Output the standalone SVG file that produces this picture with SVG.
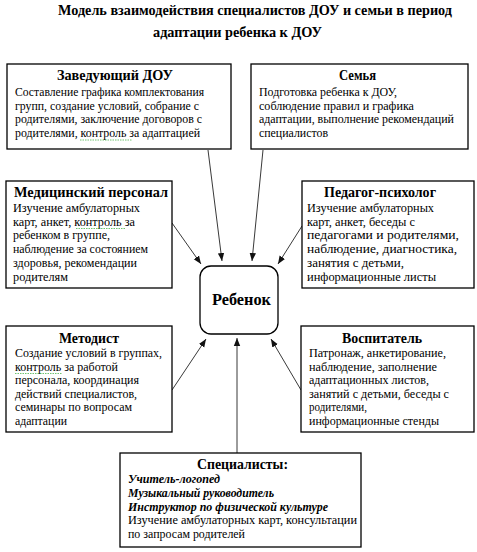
<svg xmlns="http://www.w3.org/2000/svg" width="477" height="552" viewBox="0 0 477 552" font-family="Liberation Serif, serif">
<style>
.bx{fill:#fff;stroke:#000;stroke-width:1.3}
.h{font-size:14px;font-weight:bold}
.b{font-size:11.5px}
.bi{font-size:11.5px;font-weight:bold;font-style:italic}
.ln{stroke:#222;stroke-width:0.9;fill:none;marker-end:url(#ah)}
.sq{stroke:#3a3;stroke-width:0.7;fill:none;stroke-dasharray:1.5 1}
</style>
<defs>
<marker id="ah" markerUnits="userSpaceOnUse" markerWidth="8" markerHeight="8" viewBox="0 0 8 8" refX="8" refY="4" orient="auto">
<path d="M0,0.8 L8,4 L0,7.2 Z" fill="#111"/>
</marker>
</defs>
<rect width="477" height="552" fill="#fff"/>
<g id="title" font-family="Liberation Serif, serif">
<text class="h" x="58" y="15" textLength="394" lengthAdjust="spacingAndGlyphs">Модель взаимодействия специалистов ДОУ и семьи в период</text>
<text class="h" x="153" y="37" textLength="169" lengthAdjust="spacingAndGlyphs">адаптации ребенка к ДОУ</text>
</g>
<g id="connectors">
<line class="ln" x1="208" y1="150" x2="222" y2="261"/>
<line class="ln" x1="263" y1="150" x2="252" y2="261"/>
<line class="ln" x1="172" y1="223" x2="201" y2="264"/>
<line class="ln" x1="302" y1="226" x2="278" y2="264"/>
<line class="ln" x1="172" y1="390" x2="206" y2="339"/>
<line class="ln" x1="301" y1="390" x2="271" y2="339"/>
<line class="ln" x1="237" y1="453" x2="237" y2="338"/>
</g>
<g id="zaveduyushchiy" font-family="Liberation Serif, serif">
<rect class="bx" x="7" y="64" width="224" height="85"/>
<text class="h" x="57" y="80" textLength="116" lengthAdjust="spacingAndGlyphs">Заведующий ДОУ</text>
<text class="b" x="15" y="96" textLength="189" lengthAdjust="spacingAndGlyphs">Составление графика комплектования</text>
<text class="b" x="15" y="109.5" textLength="184" lengthAdjust="spacingAndGlyphs">групп, создание условий, собрание с</text>
<text class="b" x="15" y="123" textLength="187" lengthAdjust="spacingAndGlyphs">родителями, заключение договоров с</text>
<text class="b" x="15" y="137" textLength="185" lengthAdjust="spacingAndGlyphs">родителями, контроль за адаптацией</text>
<path class="sq" d="M80,140 h52"/>
</g>
<g id="semya" font-family="Liberation Serif, serif">
<rect class="bx" x="251" y="64" width="217" height="85"/>
<text class="h" x="339" y="80" textLength="37" lengthAdjust="spacingAndGlyphs">Семья</text>
<text class="b" x="259" y="96" textLength="138" lengthAdjust="spacingAndGlyphs">Подготовка ребенка к ДОУ,</text>
<text class="b" x="259" y="109.5" textLength="155" lengthAdjust="spacingAndGlyphs">соблюдение правил и графика</text>
<text class="b" x="259" y="123" textLength="195" lengthAdjust="spacingAndGlyphs">адаптации, выполнение рекомендаций</text>
<text class="b" x="259" y="137" textLength="69" lengthAdjust="spacingAndGlyphs">специалистов</text>
</g>
<g id="medpersonal" font-family="Liberation Serif, serif">
<rect class="bx" x="6" y="181" width="166" height="107"/>
<text class="h" x="14" y="197" textLength="154" lengthAdjust="spacingAndGlyphs">Медицинский персонал</text>
<text class="b" x="13" y="211.5" textLength="127" lengthAdjust="spacingAndGlyphs">Изучение амбулаторных</text>
<text class="b" x="13" y="225.5" textLength="122" lengthAdjust="spacingAndGlyphs">карт, анкет, контроль за</text>
<text class="b" x="13" y="239" textLength="97" lengthAdjust="spacingAndGlyphs">ребенком в группе,</text>
<text class="b" x="13" y="253" textLength="135" lengthAdjust="spacingAndGlyphs">наблюдение за состоянием</text>
<text class="b" x="13" y="267" textLength="124" lengthAdjust="spacingAndGlyphs">здоровья, рекомендации</text>
<text class="b" x="13" y="281" textLength="55" lengthAdjust="spacingAndGlyphs">родителям</text>
<path class="sq" d="M76,228.5 h50"/>
</g>
<g id="pedagog" font-family="Liberation Serif, serif">
<rect class="bx" x="302" y="181" width="172" height="107"/>
<text class="h" x="324" y="197" textLength="112" lengthAdjust="spacingAndGlyphs">Педагог-психолог</text>
<text class="b" x="307" y="211.5" textLength="127" lengthAdjust="spacingAndGlyphs">Изучение амбулаторных</text>
<text class="b" x="307" y="225.5" textLength="108" lengthAdjust="spacingAndGlyphs">карт, анкет, беседы с</text>
<text class="b" x="307" y="239" textLength="152" lengthAdjust="spacingAndGlyphs">педагогами и родителями,</text>
<text class="b" x="307" y="253" textLength="150" lengthAdjust="spacingAndGlyphs">наблюдение, диагностика,</text>
<text class="b" x="307" y="267" textLength="97" lengthAdjust="spacingAndGlyphs">занятия с детьми,</text>
<text class="b" x="307" y="281" textLength="129" lengthAdjust="spacingAndGlyphs">информационные листы</text>
</g>
<g id="rebenok" font-family="Liberation Serif, serif">
<rect class="bx" x="200" y="266" width="78" height="68" rx="11" ry="11"/>
<text x="212" y="305" font-size="16" font-weight="bold" textLength="59" lengthAdjust="spacingAndGlyphs">Ребенок</text>
</g>
<g id="metodist" font-family="Liberation Serif, serif">
<rect class="bx" x="6" y="326" width="166" height="106"/>
<text class="h" x="59" y="343" textLength="60" lengthAdjust="spacingAndGlyphs">Методист</text>
<text class="b" x="15" y="357" textLength="147" lengthAdjust="spacingAndGlyphs">Создание условий в группах,</text>
<text class="b" x="15" y="370.5" textLength="103" lengthAdjust="spacingAndGlyphs">контроль за работой</text>
<text class="b" x="15" y="384" textLength="124" lengthAdjust="spacingAndGlyphs">персонала, координация</text>
<text class="b" x="15" y="397.5" textLength="122" lengthAdjust="spacingAndGlyphs">действий специалистов,</text>
<text class="b" x="15" y="411" textLength="117" lengthAdjust="spacingAndGlyphs">семинары по вопросам</text>
<text class="b" x="15" y="424.5" textLength="52" lengthAdjust="spacingAndGlyphs">адаптации</text>
<path class="sq" d="M15,373.5 h47"/>
</g>
<g id="vospitatel" font-family="Liberation Serif, serif">
<rect class="bx" x="301" y="326" width="173" height="106"/>
<text class="h" x="342" y="343" textLength="80" lengthAdjust="spacingAndGlyphs">Воспитатель</text>
<text class="b" x="309" y="357" textLength="137" lengthAdjust="spacingAndGlyphs">Патронаж, анкетирование,</text>
<text class="b" x="309" y="370.5" textLength="128" lengthAdjust="spacingAndGlyphs">наблюдение, заполнение</text>
<text class="b" x="309" y="384" textLength="120" lengthAdjust="spacingAndGlyphs">адаптационных листов,</text>
<text class="b" x="309" y="397.5" textLength="140" lengthAdjust="spacingAndGlyphs">занятий с детьми, беседы с</text>
<text class="b" x="309" y="411" textLength="58" lengthAdjust="spacingAndGlyphs">родителями,</text>
<text class="b" x="309" y="424.5" textLength="130" lengthAdjust="spacingAndGlyphs">информационные стенды</text>
</g>
<g id="specialisty" font-family="Liberation Serif, serif">
<rect class="bx" x="120" y="453" width="241" height="94"/>
<text class="h" x="197" y="469" textLength="91" lengthAdjust="spacingAndGlyphs">Специалисты:</text>
<text class="bi" x="128" y="483" textLength="92" lengthAdjust="spacingAndGlyphs">Учитель-логопед</text>
<text class="bi" x="128" y="497" textLength="146" lengthAdjust="spacingAndGlyphs">Музыкальный руководитель</text>
<text class="bi" x="128" y="510.5" textLength="200" lengthAdjust="spacingAndGlyphs">Инструктор по физической культуре</text>
<text class="b" x="128" y="524" textLength="229" lengthAdjust="spacingAndGlyphs">Изучение амбулаторных карт, консультации</text>
<text class="b" x="128" y="537.5" textLength="117" lengthAdjust="spacingAndGlyphs">по запросам родителей</text>
</g>
</svg>
